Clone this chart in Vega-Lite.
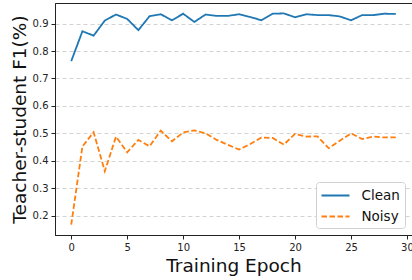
{
  "$schema": "https://vega.github.io/schema/vega-lite/v6.json",
  "autosize": "none",
  "width": 357,
  "height": 232,
  "padding": {"left": 55, "top": 3, "right": 0, "bottom": 45},
  "background": "white",
  "config": {
    "font": "DejaVu Sans",
    "view": {"stroke": "#222", "strokeWidth": 1}
  },
  "data": {
    "values": [
      {"epoch": 0, "series": "Clean", "f1": 0.763},
      {"epoch": 1, "series": "Clean", "f1": 0.872},
      {"epoch": 2, "series": "Clean", "f1": 0.856},
      {"epoch": 3, "series": "Clean", "f1": 0.911},
      {"epoch": 4, "series": "Clean", "f1": 0.933},
      {"epoch": 5, "series": "Clean", "f1": 0.917},
      {"epoch": 6, "series": "Clean", "f1": 0.876},
      {"epoch": 7, "series": "Clean", "f1": 0.927},
      {"epoch": 8, "series": "Clean", "f1": 0.934},
      {"epoch": 9, "series": "Clean", "f1": 0.912},
      {"epoch": 10, "series": "Clean", "f1": 0.936},
      {"epoch": 11, "series": "Clean", "f1": 0.906},
      {"epoch": 12, "series": "Clean", "f1": 0.933},
      {"epoch": 13, "series": "Clean", "f1": 0.928},
      {"epoch": 14, "series": "Clean", "f1": 0.928},
      {"epoch": 15, "series": "Clean", "f1": 0.934},
      {"epoch": 16, "series": "Clean", "f1": 0.924},
      {"epoch": 17, "series": "Clean", "f1": 0.912},
      {"epoch": 18, "series": "Clean", "f1": 0.936},
      {"epoch": 19, "series": "Clean", "f1": 0.937},
      {"epoch": 20, "series": "Clean", "f1": 0.923},
      {"epoch": 21, "series": "Clean", "f1": 0.934},
      {"epoch": 22, "series": "Clean", "f1": 0.931},
      {"epoch": 23, "series": "Clean", "f1": 0.931},
      {"epoch": 24, "series": "Clean", "f1": 0.926},
      {"epoch": 25, "series": "Clean", "f1": 0.912},
      {"epoch": 26, "series": "Clean", "f1": 0.931},
      {"epoch": 27, "series": "Clean", "f1": 0.931},
      {"epoch": 28, "series": "Clean", "f1": 0.936},
      {"epoch": 29, "series": "Clean", "f1": 0.935},
      {"epoch": 0, "series": "Noisy", "f1": 0.167},
      {"epoch": 1, "series": "Noisy", "f1": 0.452},
      {"epoch": 2, "series": "Noisy", "f1": 0.504},
      {"epoch": 3, "series": "Noisy", "f1": 0.362},
      {"epoch": 4, "series": "Noisy", "f1": 0.488},
      {"epoch": 5, "series": "Noisy", "f1": 0.431},
      {"epoch": 6, "series": "Noisy", "f1": 0.476},
      {"epoch": 7, "series": "Noisy", "f1": 0.453},
      {"epoch": 8, "series": "Noisy", "f1": 0.51},
      {"epoch": 9, "series": "Noisy", "f1": 0.471},
      {"epoch": 10, "series": "Noisy", "f1": 0.503},
      {"epoch": 11, "series": "Noisy", "f1": 0.511},
      {"epoch": 12, "series": "Noisy", "f1": 0.5},
      {"epoch": 13, "series": "Noisy", "f1": 0.476},
      {"epoch": 14, "series": "Noisy", "f1": 0.458},
      {"epoch": 15, "series": "Noisy", "f1": 0.441},
      {"epoch": 16, "series": "Noisy", "f1": 0.461},
      {"epoch": 17, "series": "Noisy", "f1": 0.485},
      {"epoch": 18, "series": "Noisy", "f1": 0.483},
      {"epoch": 19, "series": "Noisy", "f1": 0.459},
      {"epoch": 20, "series": "Noisy", "f1": 0.498},
      {"epoch": 21, "series": "Noisy", "f1": 0.488},
      {"epoch": 22, "series": "Noisy", "f1": 0.489},
      {"epoch": 23, "series": "Noisy", "f1": 0.446},
      {"epoch": 24, "series": "Noisy", "f1": 0.473},
      {"epoch": 25, "series": "Noisy", "f1": 0.5},
      {"epoch": 26, "series": "Noisy", "f1": 0.479},
      {"epoch": 27, "series": "Noisy", "f1": 0.488},
      {"epoch": 28, "series": "Noisy", "f1": 0.485},
      {"epoch": 29, "series": "Noisy", "f1": 0.485}
    ]
  },
  "mark": {"type": "line", "strokeWidth": 1.8},
  "encoding": {
    "x": {
      "field": "epoch",
      "type": "quantitative",
      "scale": {"domain": [-1.45, 30.45], "nice": false, "zero": false},
      "axis": {
        "title": "Training Epoch",
        "values": [0, 5, 10, 15, 20, 25, 30],
        "grid": false,
        "domainColor": "#222",
        "tickColor": "#222",
        "tickSize": 4,
        "labelFontSize": 10,
        "labelColor": "#222",
        "labelPadding": 3,
        "titleFontSize": 18.5,
        "titleFontWeight": "normal",
        "titleColor": "#111",
        "titlePadding": 4
      }
    },
    "y": {
      "field": "f1",
      "type": "quantitative",
      "scale": {"domain": [0.1295, 0.975], "nice": false, "zero": false},
      "axis": {
        "title": "Teacher-student F1(%)",
        "values": [0.2, 0.3, 0.4, 0.5, 0.6, 0.7, 0.8, 0.9],
        "format": ".1f",
        "grid": true,
        "gridColor": "#c8c8c8",
        "gridDash": [4, 3],
        "gridWidth": 0.8,
        "domainColor": "#222",
        "tickColor": "#222",
        "tickSize": 4,
        "labelFontSize": 10,
        "labelColor": "#222",
        "labelPadding": 3,
        "titleFontSize": 18.5,
        "titleFontWeight": "normal",
        "titleColor": "#111",
        "titlePadding": 3
      }
    },
    "color": {
      "field": "series",
      "type": "nominal",
      "scale": {"domain": ["Clean", "Noisy"], "range": ["#1f77b4", "#ff7f0e"]},
      "legend": {
        "title": null,
        "orient": "bottom-right",
        "offset": 7,
        "fillColor": "white",
        "strokeColor": "#d0d0d0",
        "cornerRadius": 3,
        "padding": 4.5,
        "symbolType": "M-1,0H2.5",
        "symbolStrokeWidth": 1.8,
        "symbolSize": 256,
        "symbolFillColor": "transparent",
        "labelFontSize": 13.5,
        "labelColor": "#111",
        "labelOffset": 23,
        "rowPadding": 5
      }
    },
    "strokeDash": {
      "field": "series",
      "type": "nominal",
      "scale": {"domain": ["Clean", "Noisy"], "range": [[1, 0], [5.5, 2.5]]},
      "legend": {
        "title": null,
        "orient": "bottom-right",
        "offset": 7,
        "fillColor": "white",
        "strokeColor": "#d0d0d0",
        "cornerRadius": 3,
        "padding": 4.5,
        "symbolType": "M-1,0H2.5",
        "symbolStrokeWidth": 1.8,
        "symbolSize": 256,
        "symbolFillColor": "transparent",
        "labelFontSize": 13.5,
        "labelColor": "#111",
        "labelOffset": 23,
        "rowPadding": 5
      }
    }
  }
}
